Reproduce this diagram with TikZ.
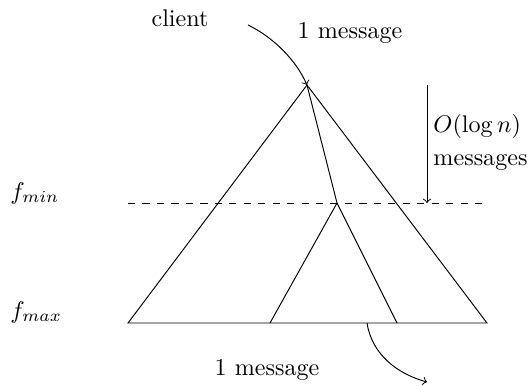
\documentclass[tikz,border=0pt]{standalone}
\begin{document}
\begin{tikzpicture}[x=0.415pt,y=-0.415pt,
  line/.style={draw=black,line width=0.4pt},
  arr/.style={line,->},
  lbl/.style={inner sep=0pt}]
\useasboundingbox (0,0) rectangle (532,385);
% points
\coordinate (apex) at (307,85);
\coordinate (bl) at (128,323);
\coordinate (br) at (487,323);
\coordinate (j) at (337,203);
\coordinate (il) at (270,323);
\coordinate (ir) at (397,323);
\coordinate (dl) at (128,203);
\coordinate (dr) at (484,203);
\coordinate (ds) at (427,85);
\coordinate (de) at (427,203);
\coordinate (cs) at (248,25);
\coordinate (os) at (367,323);
\coordinate (oe) at (427,382);
% labels
\node[lbl] (client) at (180,18) {client};
\node[lbl] (m1) at (350,33) {1 message};
\node[lbl,anchor=west] (olog) at (433,126) {$O(\log n)$};
\node[lbl,anchor=west] (msgs) at (433,163) {messages};
\node[lbl,anchor=west] (fmin) at (10,193) {$f_{min}$};
\node[lbl,anchor=west] (fmax) at (10,312) {$f_{max}$};
\node[lbl] (m2) at (267,370) {1 message};
% tree
\draw[line] (bl) -- (apex) -- (br) -- cycle;
\draw[line] (apex) -- (j) -- (il);
\draw[line] (j) -- (ir);
\draw[line,dashed] (dl) -- (dr);
\draw[arr] (ds) -- (de);
\draw[arr] (cs) .. controls (275,38) and (297,62) .. (apex);
\draw[arr] (os) .. controls (372,355) and (398,374) .. (oe);
\end{tikzpicture}
\end{document}
